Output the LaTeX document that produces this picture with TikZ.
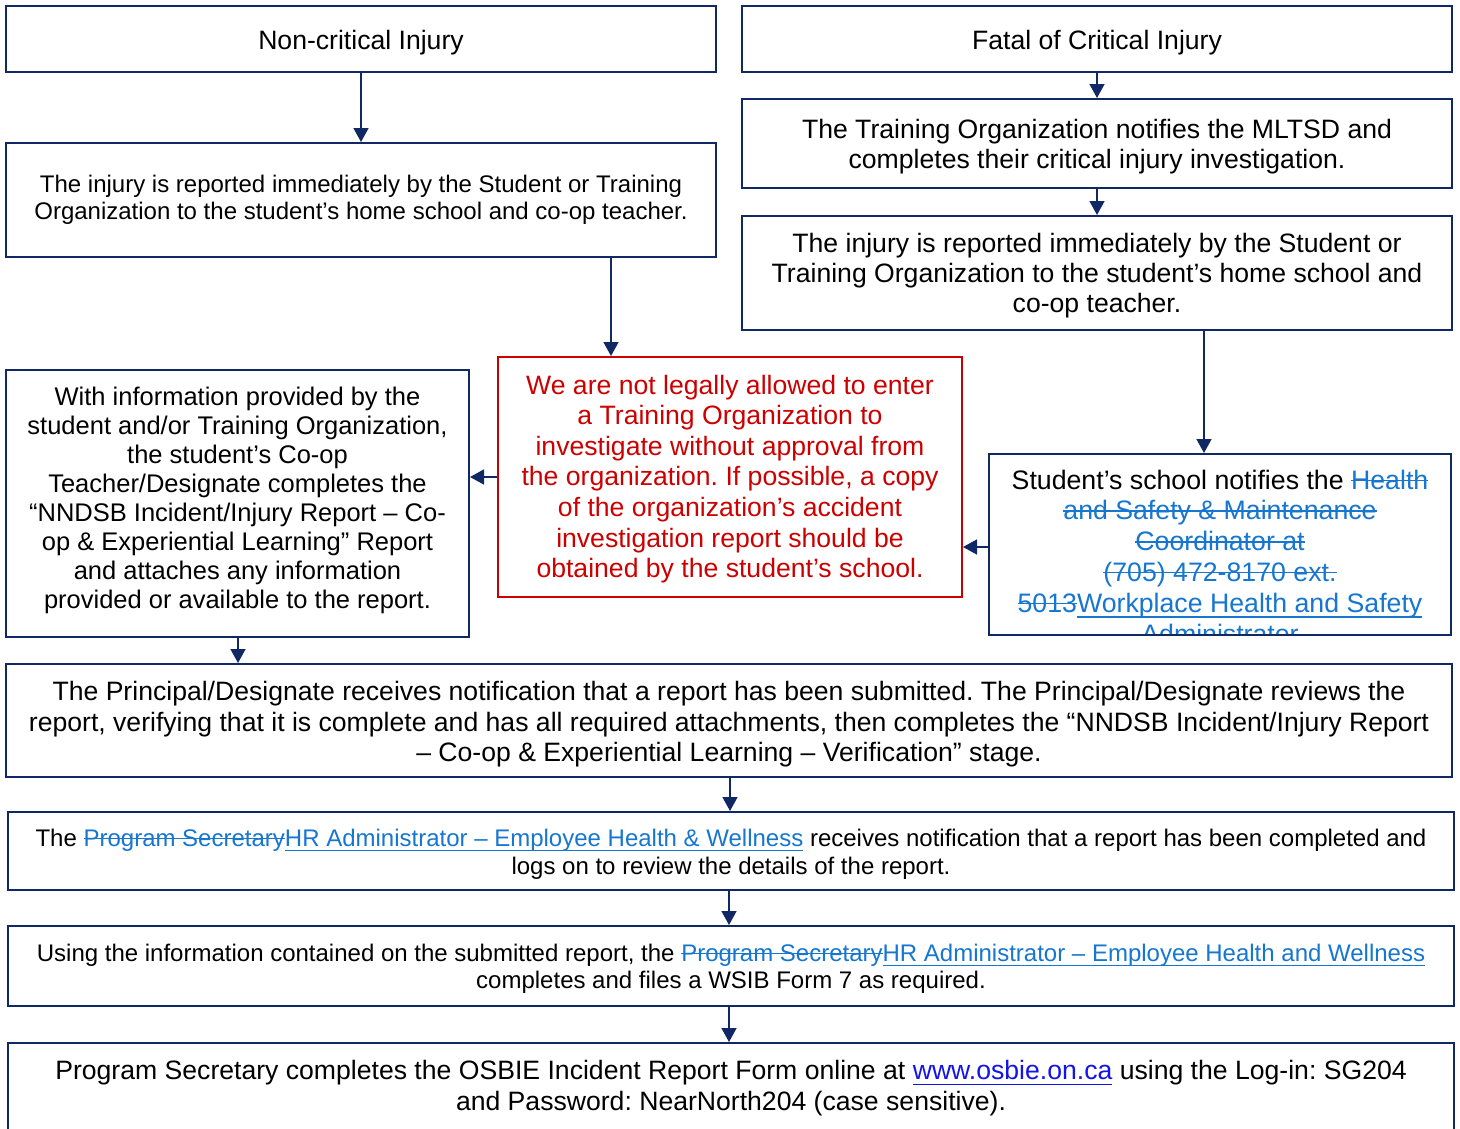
\documentclass[tikz,border=0pt]{standalone}
\usepackage{fontspec}
\setmainfont{Liberation Sans}
\usetikzlibrary{arrows.meta,calc}
\definecolor{navy}{RGB}{16,40,100}
\definecolor{tcblue}{RGB}{22,118,208}
\definecolor{urlblue}{RGB}{20,20,230}
\definecolor{warnred}{RGB}{204,0,0}
\newcommand\tcdel[1]{\leavevmode{\color{tcblue}\setbox0\hbox{#1}\rlap{\rule[0.3em]{\wd0}{1.5pt}}\box0}}
\newcommand\tcins[1]{\leavevmode{\color{tcblue}\setbox0\hbox{#1}\rlap{\rule[-0.2em]{\wd0}{1.5pt}}\box0}}
\newcommand\urlink[1]{\leavevmode{\color{urlblue}\setbox0\hbox{#1}\rlap{\rule[-0.2em]{\wd0}{1.5pt}}\box0}}
\frenchspacing
\begin{document}
\begin{tikzpicture}[x=1pt,y=-1pt,
  box/.style={draw=navy,line width=2pt,inner sep=0pt},
  redbox/.style={draw=warnred,line width=2pt,inner sep=0pt},
  arr/.style={draw=navy,line width=1.5pt,-{Triangle[length=14pt,width=15pt,fill=navy]}},
  txt/.style={align=center,inner sep=0pt,font=\fontsize{26.6}{30}\selectfont},
  txtsm/.style={align=center,inner sep=0pt,font=\fontsize{24}{27.5}\selectfont}]
\clip (0,0) rectangle (1460,1128);
\fill[white] (0,0) rectangle (1460,1128);

% boxes
\node[box,minimum width=710pt,minimum height=66pt] (n1) at (361,39) {};
\node[box,minimum width=710pt,minimum height=66pt] (n2) at (1097,39) {};
\node[box,minimum width=710pt,minimum height=114pt] (n3) at (361,200) {};
\node[box,minimum width=710pt,minimum height=89pt] (n4) at (1097,143.5) {};
\node[box,minimum width=710pt,minimum height=114pt] (n5) at (1097,273) {};
\node[redbox,minimum width=464pt,minimum height=240pt] (red) at (730,477) {};
\node[box,minimum width=463pt,minimum height=267pt] (info) at (237.5,503.5) {};
\node[box,minimum width=462pt,minimum height=181pt] (school) at (1220,544.5) {};
\node[box,minimum width=1446pt,minimum height=113pt] (prin) at (729,720.5) {};
\node[box,minimum width=1446pt,minimum height=78pt] (hr) at (731,851) {};
\node[box,minimum width=1446pt,minimum height=80pt] (using) at (731,966) {};
\node[box,minimum width=1446pt,minimum height=107pt] (prog) at (731,1096.5) {};

% texts
\node[txt] (t1) at (361,43) {Non-critical Injury};
\node[txt] (t2) at (1097,43) {Fatal of Critical Injury};
\node[txtsm] (t3) at (361,200) {The injury is reported immediately by the Student or Training\\Organization to the student’s home school and co-op teacher.};
\node[txt] (t4) at (1097,147) {The Training Organization notifies the MLTSD and\\completes their critical injury investigation.};
\node[txt] (t5) at (1097,276) {The injury is reported immediately by the Student or\\Training Organization to the student’s home school and\\co-op teacher.};
\node[txt,text=warnred,font=\fontsize{26.6}{30.6}\selectfont] (tred) at (730,479) {We are not legally allowed to enter\\a Training Organization to\\investigate without approval from\\the organization. If possible, a copy\\of the organization’s accident\\investigation report should be\\obtained by the student’s school.};
\node[txt,font=\fontsize{25.5}{29}\selectfont] (tinfo) at (237.5,500) {With information provided by the\\student and/or Training Organization,\\the student’s Co-op\\Teacher/Designate completes the\\“NNDSB Incident/Injury Report – Co-\\op \& Experiential Learning” Report\\and attaches any information\\provided or available to the report.};
\begin{scope}
\clip (990,455) rectangle (1450,633);
\node[txt,font=\fontsize{26.7}{30.8}\selectfont] (tschool) at (1220,559) {Student’s school notifies the \tcdel{Health}\\\tcdel{and Safety \& Maintenance}\\\tcdel{Coordinator at}\\\tcdel{(705) 472-8170 ext.}\\\tcdel{5013}\tcins{Workplace Health and Safety}\\\tcins{Administrator}};
\end{scope}
\node[txt,font=\fontsize{26.6}{30.5}\selectfont] (tprin) at (729,724.5) {The Principal/Designate receives notification that a report has been submitted. The Principal/Designate reviews the\\report, verifying that it is complete and has all required attachments, then completes the “NNDSB Incident/Injury Report\\– Co-op \& Experiential Learning – Verification” stage.};
\node[txtsm,font=\fontsize{24}{28}\selectfont] (thr) at (731,854) {The \tcdel{Program Secretary}\tcins{HR Administrator – Employee Health \& Wellness} receives notification that a report has been completed and\\logs on to review the details of the report.};
\node[txtsm,font=\fontsize{24}{27}\selectfont] (tusing) at (731,968.5) {Using the information contained on the submitted report, the \tcdel{Program Secretary}\tcins{HR Administrator – Employee Health and Wellness}\\completes and files a WSIB Form 7 as required.};
\node[txt,font=\fontsize{26.6}{31}\selectfont] (tprog) at (731,1088.5) {Program Secretary completes the OSBIE Incident Report Form online at \urlink{www.osbie.on.ca} using the Log-in: SG204\\and Password: NearNorth204 (case sensitive).};

% connector columns
\coordinate (c1) at (611,0);
\coordinate (c2) at (1204,0);
\coordinate (c3) at (0,547);
\coordinate (c4) at (0,477);
\coordinate (c5) at (238,0);
\coordinate (c6) at (730,0);
\coordinate (c7) at (729,0);

% connectors
\draw[arr] (n1.south) -- (n3.north);
\draw[arr] (n2.south) -- (n4.north);
\draw[arr] (n4.south) -- (n5.north);
\draw[arr] (n3.south -| c1) -- (red.north -| c1);
\draw[arr] (n5.south -| c2) -- (school.north -| c2);
\draw[arr] (school.west |- c3) -- (red.east |- c3);
\draw[arr] (red.west |- c4) -- (info.east |- c4);
\draw[arr] (info.south -| c5) -- (prin.north -| c5);
\draw[arr] (prin.south -| c6) -- (hr.north -| c6);
\draw[arr] (hr.south -| c7) -- (using.north -| c7);
\draw[arr] (using.south -| c7) -- (prog.north -| c7);
\end{tikzpicture}
\end{document}
